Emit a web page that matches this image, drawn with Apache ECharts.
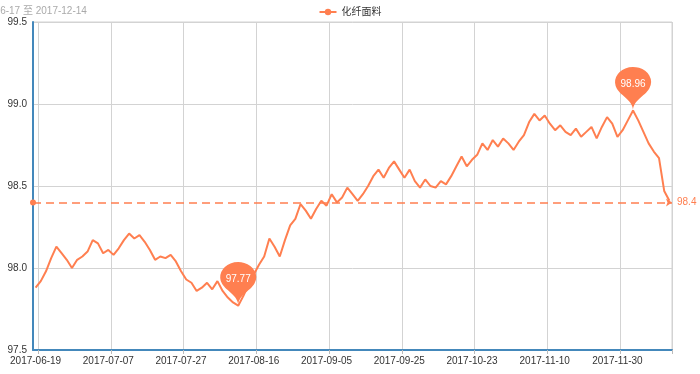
<!DOCTYPE html>
<html><head><meta charset="utf-8">
<script src="https://cdn.jsdelivr.net/npm/echarts@6/dist/echarts.min.js"></script>
<style>html,body{margin:0;padding:0;background:#fff}#c{width:700px;height:374px}</style>
</head><body><div id="c"></div>
<script>
const titleText = '2017-06-17 至 2017-12-14';
const seriesName = '化纤面料';
const categories = [
'2017-06-19','2017-06-20','2017-06-21','2017-06-22','2017-06-23','2017-06-26','2017-06-27','2017-06-28','2017-06-29','2017-06-30',
'2017-07-03','2017-07-04','2017-07-05','2017-07-06','2017-07-07','2017-07-10','2017-07-11','2017-07-12','2017-07-13','2017-07-14',
'2017-07-17','2017-07-18','2017-07-19','2017-07-20','2017-07-21','2017-07-24','2017-07-25','2017-07-26','2017-07-27','2017-07-28',
'2017-07-31','2017-08-01','2017-08-02','2017-08-03','2017-08-04','2017-08-07','2017-08-08','2017-08-09','2017-08-10','2017-08-11',
'2017-08-14','2017-08-15','2017-08-16','2017-08-17','2017-08-18','2017-08-21','2017-08-22','2017-08-23','2017-08-24','2017-08-25',
'2017-08-28','2017-08-29','2017-08-30','2017-08-31','2017-09-01','2017-09-04','2017-09-05','2017-09-06','2017-09-07','2017-09-08',
'2017-09-11','2017-09-12','2017-09-13','2017-09-14','2017-09-15','2017-09-18','2017-09-19','2017-09-20','2017-09-21','2017-09-22',
'2017-09-25','2017-09-26','2017-09-27','2017-09-28','2017-10-09','2017-10-10','2017-10-11','2017-10-12','2017-10-13','2017-10-16',
'2017-10-17','2017-10-18','2017-10-19','2017-10-20','2017-10-23','2017-10-24','2017-10-25','2017-10-26','2017-10-27','2017-10-30',
'2017-10-31','2017-11-01','2017-11-02','2017-11-03','2017-11-06','2017-11-07','2017-11-08','2017-11-09','2017-11-10','2017-11-13',
'2017-11-14','2017-11-15','2017-11-16','2017-11-17','2017-11-20','2017-11-21','2017-11-22','2017-11-23','2017-11-24','2017-11-27',
'2017-11-28','2017-11-29','2017-11-30','2017-12-01','2017-12-04','2017-12-05','2017-12-06','2017-12-07','2017-12-08','2017-12-11',
'2017-12-12','2017-12-13','2017-12-14'
];
const values = [
97.88,97.92,97.98,98.06,98.13,98.09,98.05,98.00,98.05,98.07,
98.10,98.17,98.15,98.09,98.11,98.08,98.12,98.17,98.21,98.18,
98.20,98.16,98.11,98.05,98.07,98.06,98.08,98.04,97.98,97.93,
97.91,97.86,97.88,97.91,97.87,97.92,97.86,97.82,97.79,97.77,
97.83,97.90,97.96,98.02,98.07,98.18,98.13,98.07,98.17,98.26,
98.30,98.39,98.35,98.30,98.36,98.41,98.38,98.45,98.40,98.43,
98.49,98.45,98.41,98.45,98.50,98.56,98.60,98.55,98.61,98.65,
98.60,98.55,98.60,98.53,98.49,98.54,98.50,98.49,98.53,98.51,
98.56,98.62,98.68,98.62,98.66,98.69,98.76,98.72,98.78,98.74,
98.79,98.76,98.72,98.77,98.81,98.89,98.94,98.90,98.93,98.88,
98.84,98.87,98.83,98.81,98.85,98.80,98.83,98.86,98.79,98.86,
98.92,98.88,98.80,98.84,98.90,98.96,98.90,98.83,98.76,98.71,
98.67,98.47,98.41
];
const yMin = 97.5, yMax = 99.5, yStep = 0.5;
const labelEvery = 14;

const color = '#ff7f50';
const font = '"Liberation Sans", Arial, "Noto Sans CJK SC", sans-serif';
const chart = echarts.init(document.getElementById('c'), null, {renderer: 'canvas'});
chart.setOption({
  animation: false,
  textStyle: {fontFamily: font},
  title: {
    text: titleText, left: -36, top: 1,
    textStyle: {fontSize: 10, fontWeight: 'normal', color: '#aaa', fontFamily: font}
  },
  legend: {
    data: [seriesName], top: 2, left: 'center',
    itemWidth: 17, itemHeight: 8, itemGap: 10,
    textStyle: {fontSize: 10, color: '#333', fontFamily: font}
  },
  grid: {left: 33, right: 28, top: 22, bottom: 24, show: true, borderColor: '#d3d3d3', borderWidth: 1,
    outerBoundsMode: 'none'},
  xAxis: {
    type: 'category', data: categories, boundaryGap: true,
    axisLine: {lineStyle: {color: '#4488bb', width: 2}},
    axisTick: {show: true, length: 4, interval: (i) => i % labelEvery === 1, lineStyle: {color: '#bbb'}},
    axisLabel: {interval: labelEvery - 1, fontSize: 10, color: '#333', margin: 6, fontFamily: font,
      align: 'center', hideOverlap: false},
    splitLine: {show: true, interval: (i) => i % labelEvery === 1, lineStyle: {color: '#d3d3d3'}}
  },
  yAxis: {
    type: 'value', min: yMin, max: yMax, interval: yStep,
    axisLine: {show: true, lineStyle: {color: '#4488bb', width: 2}},
    axisTick: {show: false},
    axisLabel: {fontSize: 10, color: '#333', margin: 6, formatter: (v) => v.toFixed(1), fontFamily: font},
    splitLine: {show: true, lineStyle: {color: '#d3d3d3'}}
  },
  series: [{
    name: seriesName, type: 'line', data: values,
    symbol: 'circle', symbolSize: 6, showSymbol: false,
    itemStyle: {color: color},
    lineStyle: {color: color, width: 2},
    markPoint: {
      symbol: 'pin', symbolSize: [60, 50],
      itemStyle: {color: color},
      label: {color: '#fff', fontSize: 10, fontFamily: font},
      data: [{type: 'max', name: '最大值'}, {type: 'min', name: '最小值'}]
    },
    markLine: {
      symbol: ['circle', 'arrow'], symbolSize: 6, precision: 1,
      lineStyle: {color: color, type: [8, 5], width: 1.5},
      label: {color: color, fontSize: 10, fontFamily: font},
      data: [{type: 'average', name: '平均值'}]
    }
  }]
});
</script>
</body></html>
